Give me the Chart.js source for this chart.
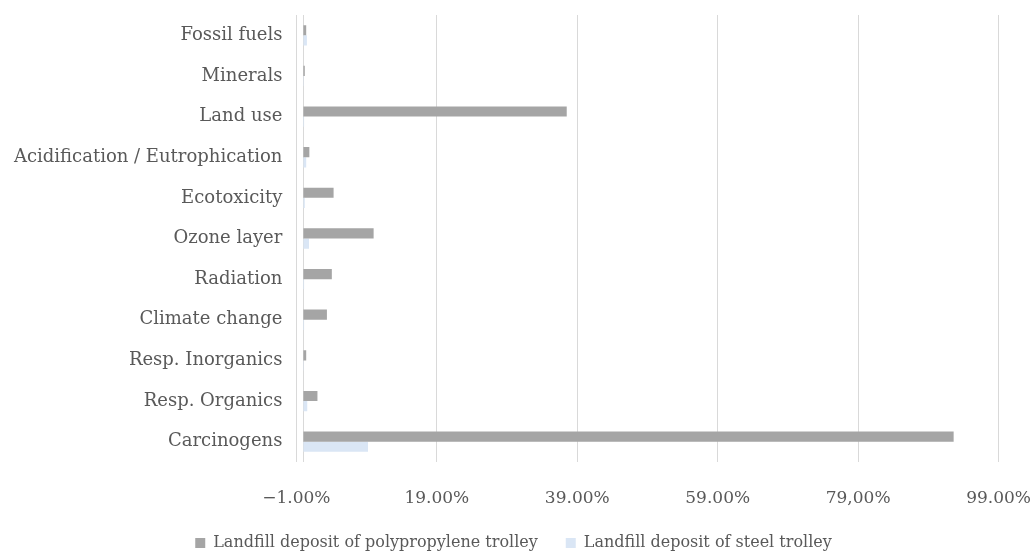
<!DOCTYPE html>
<html>
<head>
<meta charset="utf-8">
<script src="https://cdn.jsdelivr.net/npm/chart.js@4/dist/chart.umd.min.js"></script>
<style>
  html, body { margin: 0; padding: 0; background: #ffffff; }
  #wrap { width: 1031px; height: 553px; }
</style>
</head>
<body>
<div id="wrap"><canvas id="chart" width="1031" height="553"></canvas></div>
<script>
// Impact categories, listed top to bottom
const categories = [
  'Fossil fuels',
  'Minerals',
  'Land use',
  'Acidification / Eutrophication',
  'Ecotoxicity',
  'Ozone layer',
  'Radiation',
  'Climate change',
  'Resp. Inorganics',
  'Resp. Organics',
  'Carcinogens'
];

// Share of impact (%) per category
const polypropyleneValues = [0.4, 0.2, 37.5, 0.85, 4.3, 10.0, 4.05, 3.35, 0.4, 2.0, 92.6];
const steelValues         = [0.5, 0.05, 0.1, 0.4, 0.2, 0.8, 0.1, 0.1, 0.05, 0.55, 9.2];

// Value axis ticks and their printed labels
const xTickValues = [-1, 19, 39, 59, 79, 99];
const xTickLabels = ['\u22121.00%', '19.00%', '39.00%', '59.00%', '79,00%', '99.00%'];

const seriesNames = [
  'Landfill deposit of polypropylene trolley',
  'Landfill deposit of steel trolley'
];

const FONT = '"DejaVu Serif", "Liberation Serif", serif';
const TEXT = '#595959';
const GRID = '#d9d9d9';
const X_TICK_GAP = 26;

// Vertical axis line drawn where the value is zero
const zeroLine = {
  id: 'zeroLine',
  beforeDatasetsDraw(chart) {
    const x = Math.round(chart.scales.x.getPixelForValue(0)) + 0.5;
    const area = chart.chartArea;
    const ctx = chart.ctx;
    ctx.save();
    ctx.strokeStyle = GRID;
    ctx.lineWidth = 1;
    ctx.beginPath();
    ctx.moveTo(x, area.top);
    ctx.lineTo(x, area.bottom);
    ctx.stroke();
    ctx.restore();
  }
};

new Chart(document.getElementById('chart'), {
  type: 'bar',
  data: {
    labels: categories,
    datasets: [
      {
        label: seriesNames[0],
        data: polypropyleneValues,
        backgroundColor: '#a5a5a5',
        categoryPercentage: 0.5,
        barPercentage: 1.0
      },
      {
        label: seriesNames[1],
        data: steelValues,
        backgroundColor: '#dae6f5',
        categoryPercentage: 0.5,
        barPercentage: 1.0
      }
    ]
  },
  options: {
    indexAxis: 'y',
    responsive: false,
    animation: false,
    layout: { padding: { left: 0, right: 4, top: 15, bottom: -8 } },
    plugins: {
      tooltip: { enabled: false },
      legend: {
        position: 'bottom',
        labels: {
          color: TEXT,
          font: { family: FONT, size: 16 },
          boxWidth: 10,
          boxHeight: 10,
          padding: 28
        }
      }
    },
    scales: {
      x: {
        type: 'linear',
        min: -1,
        max: 99,
        afterBuildTicks(scale) {
          scale.ticks = xTickValues.map(v => ({ value: v }));
        },
        // the label gap should only push labels down, not squeeze the right edge;
        // fixed band height between the plot and the legend
        afterFit(scale) {
          scale.paddingRight = Math.max(0, scale.paddingRight - X_TICK_GAP);
          scale.height = 45;
        },
        ticks: {
          color: TEXT,
          font: { family: FONT, size: 17 },
          padding: X_TICK_GAP,
          maxRotation: 0,
          callback(value) {
            const i = xTickValues.indexOf(value);
            return i >= 0 ? xTickLabels[i] : '';
          }
        },
        grid: { color: GRID, drawTicks: false, tickLength: 0 },
        border: { display: false }
      },
      y: {
        type: 'category',
        // categories sit inside the bands, so no extra room above or below
        afterFit(scale) {
          scale.paddingTop = 0;
          scale.paddingBottom = 0;
        },
        ticks: {
          color: TEXT,
          font: { family: FONT, size: 18 },
          padding: 14
        },
        grid: { display: false, drawTicks: false },
        border: { display: false }
      }
    }
  },
  plugins: [zeroLine]
});
</script>
</body>
</html>
